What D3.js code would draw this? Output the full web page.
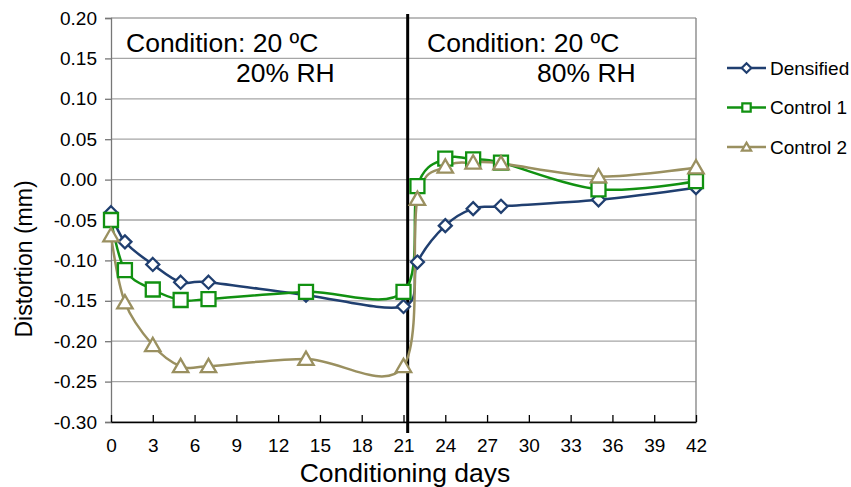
<!DOCTYPE html>
<html><head><meta charset="utf-8">
<script src="https://cdn.jsdelivr.net/npm/d3@7"></script>
<style>body{margin:0;background:#fff}svg{display:block;font-family:"Liberation Sans",Arial,sans-serif}</style>
</head><body><svg id="c" width="851" height="487"></svg>
<script>
const days = [0,1,3,5,7,14,21,22,24,26,28,35,42];
const densified = [-0.041,-0.077,-0.105,-0.127,-0.127,-0.143,-0.157,-0.102,-0.057,-0.036,-0.033,-0.025,-0.010];
const control1  = [-0.050,-0.112,-0.136,-0.149,-0.148,-0.139,-0.139,-0.008,0.026,0.025,0.021,-0.012,-0.002];
const control2  = [-0.069,-0.152,-0.205,-0.231,-0.231,-0.222,-0.231,-0.024,0.016,0.021,0.020,0.004,0.015];
const seriesNames = ["Densified","Control 1","Control 2"];
const xTicks = [0,3,6,9,12,15,18,21,24,27,30,33,36,39,42];
const yTicks = [0.20,0.15,0.10,0.05,0.00,-0.05,-0.10,-0.15,-0.20,-0.25,-0.30];
const dividerDay = 21.3;
const annotations = [["Condition: 20 ºC","20% RH"],["Condition: 20 ºC","80% RH"]];

const colors = ["#203f70","#119111","#9a9060"];
const shapes = ["diamond","square","triangle"];
const values = [densified, control1, control2];

const svg = d3.select("#c");
const x = d3.scaleLinear().domain([0,42]).range([111,696]);
const y = d3.scaleLinear().domain([-0.30,0.20]).range([422,18]);

svg.append("g").selectAll("line").data(yTicks).join("line")
  .attr("x1",x(0)).attr("x2",x(42)).attr("y1",d=>y(d)).attr("y2",d=>y(d))
  .attr("stroke","#a6a6a6").attr("stroke-width",1.3);
svg.append("line").attr("x1",x(42)).attr("x2",x(42)).attr("y1",y(0.2)).attr("y2",y(-0.3))
  .attr("stroke","#808080").attr("stroke-width",1.3);

const fmt = d => d3.format(".2f")(d).replace("−","-");
const yAxis = svg.append("g").attr("transform",`translate(${x(0)},0)`)
  .call(d3.axisLeft(y).tickValues(yTicks).tickFormat(fmt).tickSize(6).tickPadding(8));
yAxis.select(".domain").attr("stroke","#777").attr("stroke-width",1.3);
yAxis.selectAll(".tick line").attr("stroke","#777").attr("stroke-width",1.3);
yAxis.selectAll("text").attr("font-size",19).attr("fill","#000").attr("font-family","Liberation Sans, Arial");

const xAxis = svg.append("g").attr("transform",`translate(0,${y(-0.3)})`)
  .call(d3.axisBottom(x).tickValues(xTicks).tickFormat(d3.format("d")).tickSize(7).tickPadding(10).tickSizeOuter(0));
xAxis.select(".domain").attr("stroke","#000").attr("stroke-width",1.3);
xAxis.selectAll(".tick line").attr("stroke","#000").attr("stroke-width",1.3).attr("y1",-7).attr("y2",0);
xAxis.selectAll("text").attr("font-size",19).attr("fill","#000").attr("font-family","Liberation Sans, Arial");

svg.append("text").attr("x",405).attr("y",482).attr("text-anchor","middle")
  .attr("font-size",26.5).text("Conditioning days");
svg.append("text").attr("transform","translate(32,259) rotate(-90)").attr("text-anchor","middle")
  .attr("font-size",23).text("Distortion (mm)");

svg.append("line").attr("x1",x(dividerDay)).attr("x2",x(dividerDay)).attr("y1",14).attr("y2",433)
  .attr("stroke","#000").attr("stroke-width",3);

const annX = [[126,236],[427,537]];
annotations.forEach((a,i)=>{
  svg.append("text").attr("x",annX[i][0]).attr("y",52).attr("font-size",26.5).text(a[0]);
  svg.append("text").attr("x",annX[i][1]).attr("y",82).attr("font-size",26.5).text(a[1]);
});

function markerPath(shape, s){
  if(shape==="diamond") return `M0,${-s}L${s},0L0,${s}L${-s},0Z`;
  if(shape==="square") return `M${-s},${-s}H${s}V${s}H${-s}Z`;
  return `M0,${-s*1.05}L${s*1.1},${s*0.85}H${-s*1.1}Z`;
}

const line = d3.line().x(d=>x(d[0])).y(d=>y(d[1])).curve(d3.curveCardinal.tension(0));
values.forEach((vals,i)=>{
  const pts = days.map((d,j)=>[d,vals[j]]);
  svg.append("path").datum(pts).attr("d",line).attr("fill","none")
    .attr("stroke",colors[i]).attr("stroke-width",2.5);
});
values.forEach((vals,i)=>{
  const pts = days.map((d,j)=>[d,vals[j]]);
  const sz = i===0?6.5:7;
  svg.append("g").selectAll("path").data(pts).join("path")
    .attr("transform",d=>`translate(${x(d[0])},${y(d[1])})`)
    .attr("d",markerPath(shapes[i],sz)).attr("fill","#fff")
    .attr("stroke",colors[i]).attr("stroke-width",2.3);
});

const legY = [68,107.5,147];
seriesNames.forEach((n,i)=>{
  const g = svg.append("g");
  g.append("line").attr("x1",727).attr("x2",766).attr("y1",legY[i]).attr("y2",legY[i])
    .attr("stroke",colors[i]).attr("stroke-width",2.5);
  g.append("path").attr("transform",`translate(746.5,${legY[i]})`)
    .attr("d",markerPath(shapes[i],i===0?4.8:4.2)).attr("fill","#fff")
    .attr("stroke",colors[i]).attr("stroke-width",2.2);
  g.append("text").attr("x",770).attr("y",legY[i]).attr("dy","0.35em")
    .attr("font-size",19).text(n);
});
</script></body></html>
